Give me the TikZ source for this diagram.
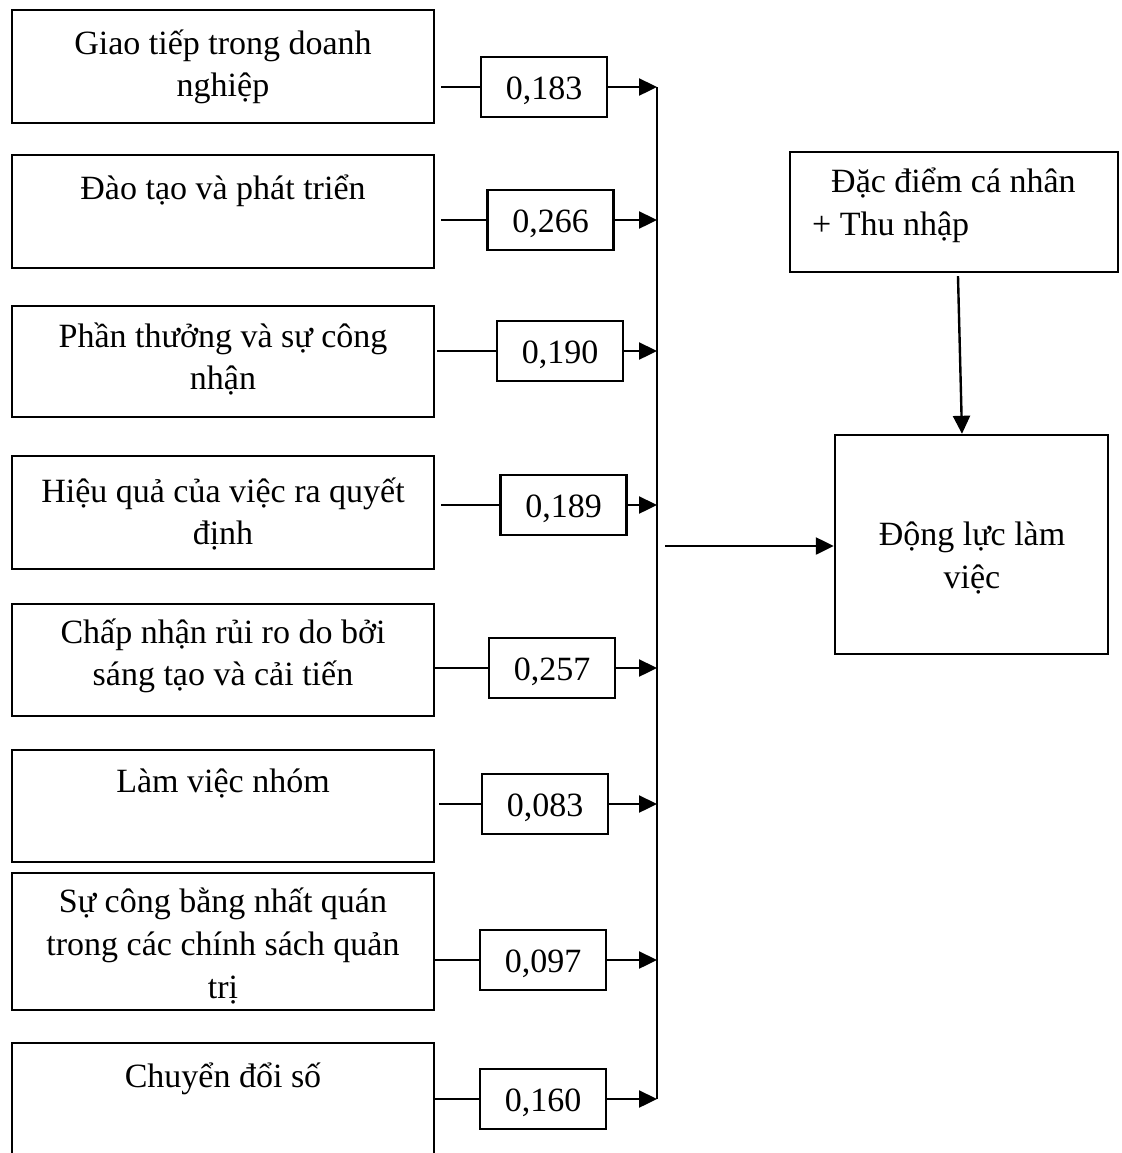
\documentclass[tikz,border=0pt]{standalone}
\usepackage{fontspec}
\setmainfont{Liberation Serif}
\usetikzlibrary{arrows.meta,positioning,calc}

\begin{document}
\begin{tikzpicture}[x=0.5pt,y=-0.5pt,line width=1.2pt,
  font=\fontsize{17}{21.3}\selectfont,
  f/.style={draw,minimum width=211pt,minimum height=56.5pt,inner sep=0pt},
  v/.style={draw,minimum width=63pt,minimum height=30pt,inner sep=0pt,
            text height=12pt,text depth=0pt},
  t/.style={inner sep=0pt,align=center},
  a/.style={-{Triangle[length=9pt,width=8.5pt]}}]
\useasboundingbox (0,0) rectangle (1122,1153);
\clip (0,0) rectangle (1122,1153);
% factor boxes
\node[f] (f1) at (223,66.5) {};
\node[f] (f2) at (223,211.5) {};
\node[f,minimum height=55.5pt] (f3) at (223,361.5) {};
\node[f] (f4) at (223,512.5) {};
\node[f,minimum height=56pt] (f5) at (223,660) {};
\node[f,minimum height=56pt] (f6) at (223,806) {};
\node[f,minimum height=68.5pt] (f7) at (223,941.5) {};
\node[f,minimum height=78.5pt] (f8) at (223,1121.5) {};
\node[t] (t1) at (223,67) {Giao tiếp trong doanh\\nghiệp};
\node[t] (t2) at (223,191) {Đào tạo và phát triển};
\node[t] (t3) at (223,359) {Phần thưởng và sự công\\nhận};
\node[t] (t4) at (223,514) {Hiệu quả của việc ra quyết\\định};
\node[t] (t5) at (223,656) {Chấp nhận rủi ro do bởi\\sáng tạo và cải tiến};
\node[t] (t6) at (223,783) {Làm việc nhóm};
\node[t] (t7) at (223,946) {Sự công bằng nhất quán\\trong các chính sách quản\\trị};
\node[t] (t8) at (223,1079) {Chuyển đổi số};
% coefficients
\node[v] (v1) at (544,87) {0,183};
\node[v] (v2) at (550.5,220) {0,266};
\node[v] (v3) at (560,351) {0,190};
\node[v] (v4) at (563.5,505) {0,189};
\node[v] (v5) at (552,668) {0,257};
\node[v] (v6) at (545,804) {0,083};
\node[v] (v7) at (543,960) {0,097};
\node[v] (v8) at (543,1099) {0,160};
% right side
\node[draw,minimum width=164pt,minimum height=60pt] (dd) at (954,212) {};
\node[t,anchor=west,align=left] (tdd) at (811,205) {\hspace*{9.5pt}Đặc điểm cá nhân\\+ Thu nhập};
\node[draw,minimum width=136.5pt,minimum height=109.5pt] (dl) at (971.5,544.5) {};
\node[t] (tdl) at (972,558) {Động lực làm\\việc};
% bus
\coordinate (bt) at (657,87);
\coordinate (bb) at (657,1099);
\coordinate (bo) at (665,546);
\draw (bt) -- (bb);
\foreach \i/\s in {1/3pt,2/3pt,3/1pt,4/3pt,5/0pt,6/2pt,7/0pt,8/0pt}{
  \draw[shorten <=\s] (v\i.west -| f\i.east) -- (v\i.west);
  \draw[a] (v\i.east) -- (v\i.east -| bt);
}
\draw[a] (bo) -- (bo -| dl.west);
\draw[a] ([xshift=2pt,yshift=-1.5pt]dd.south) -- ([xshift=-4.75pt]dl.north);
\end{tikzpicture}
\end{document}
